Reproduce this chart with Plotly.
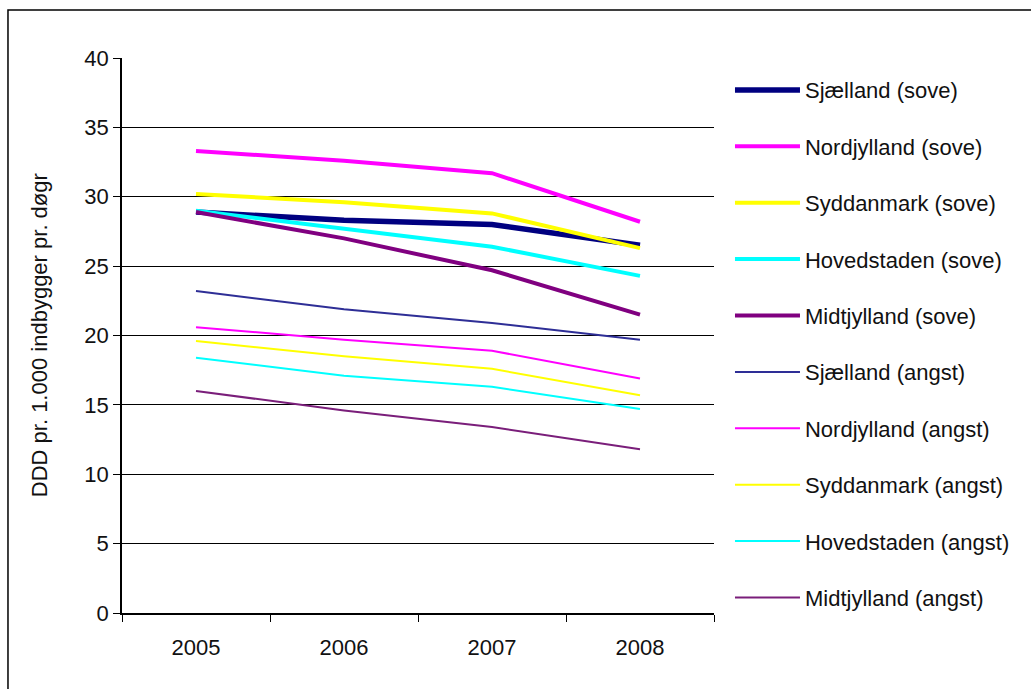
import plotly.graph_objects as go

# Årstal og forbrug (DDD pr. 1.000 indbyggere pr. døgn) for sovemidler og angstdæmpende midler
years = ["2005", "2006", "2007", "2008"]

sjaelland_sove = [28.9, 28.3, 28.0, 26.5]
nordjylland_sove = [33.3, 32.6, 31.7, 28.2]
syddanmark_sove = [30.2, 29.6, 28.8, 26.3]
hovedstaden_sove = [29.0, 27.7, 26.4, 24.3]
midtjylland_sove = [28.9, 27.0, 24.7, 21.5]

sjaelland_angst = [23.2, 21.9, 20.9, 19.7]
nordjylland_angst = [20.6, 19.7, 18.9, 16.9]
syddanmark_angst = [19.6, 18.5, 17.6, 15.7]
hovedstaden_angst = [18.4, 17.1, 16.3, 14.7]
midtjylland_angst = [16.0, 14.6, 13.4, 11.8]

y_title = "DDD pr. 1.000 indbygger pr. døgr"

series = [
    ("Sjælland (sove)", sjaelland_sove, "#000080", 5.5),
    ("Nordjylland (sove)", nordjylland_sove, "#FF00FF", 4),
    ("Syddanmark (sove)", syddanmark_sove, "#FFFF00", 4),
    ("Hovedstaden (sove)", hovedstaden_sove, "#00FFFF", 4),
    ("Midtjylland (sove)", midtjylland_sove, "#800080", 4),
    ("Sjælland (angst)", sjaelland_angst, "#2E2E96", 2),
    ("Nordjylland (angst)", nordjylland_angst, "#FF00FF", 2),
    ("Syddanmark (angst)", syddanmark_angst, "#FFFF00", 2),
    ("Hovedstaden (angst)", hovedstaden_angst, "#00FFFF", 2),
    ("Midtjylland (angst)", midtjylland_angst, "#7A1E7A", 2),
]

FONT = "Arial, Liberation Sans, sans-serif"
TEXT = "#111111"

fig = go.Figure()
for i, (name, values, color, width) in enumerate(series):
    fig.add_trace(go.Scatter(
        x=years, y=values, name=name, mode="lines",
        line=dict(color=color, width=width),
        legendgroup=f"g{i}",
    ))

fig.update_layout(
    width=1031, height=689,
    margin=dict(l=122, r=317, t=58, b=76),
    paper_bgcolor="white", plot_bgcolor="white",
    font=dict(family=FONT, size=22, color=TEXT),
    showlegend=True,
    legend=dict(
        x=1.027, xanchor="left", y=0.980, yanchor="top",
        font=dict(family=FONT, size=22, color=TEXT),
        itemwidth=65, tracegroupgap=24.8, maxheight=680,
        bgcolor="rgba(0,0,0,0)",
    ),
    xaxis=dict(
        type="category", range=[-0.5, 3.5],
        showgrid=False, zeroline=False,
        showline=True, linecolor="#000000", linewidth=1.5,
        ticks="outside", tickson="boundaries", ticklen=7, tickcolor="#000000",
        tickfont=dict(family=FONT, size=22, color=TEXT),
        ticklabelstandoff=14,
    ),
    yaxis=dict(
        range=[0, 40], tickmode="linear", tick0=0, dtick=5,
        showgrid=True, gridcolor="#000000", gridwidth=1.2,
        zeroline=False,
        showline=True, linecolor="#000000", linewidth=1.5,
        ticks="outside", ticklen=7, tickcolor="#000000",
        tickfont=dict(family=FONT, size=22, color=TEXT),
    ),
    annotations=[dict(
        text=y_title, xref="paper", yref="paper",
        x=-0.139, y=0.5, xanchor="center", yanchor="middle",
        textangle=-90, showarrow=False,
        font=dict(family=FONT, size=22, color=TEXT),
    )],
    shapes=[dict(type="rect", xref="paper", yref="paper",
                 x0=-0.1926, x1=1.56, y0=-0.16, y1=1.0865,
                 line=dict(color="#000000", width=1.5), layer="below")],
)

fig.write_html("out.html")
